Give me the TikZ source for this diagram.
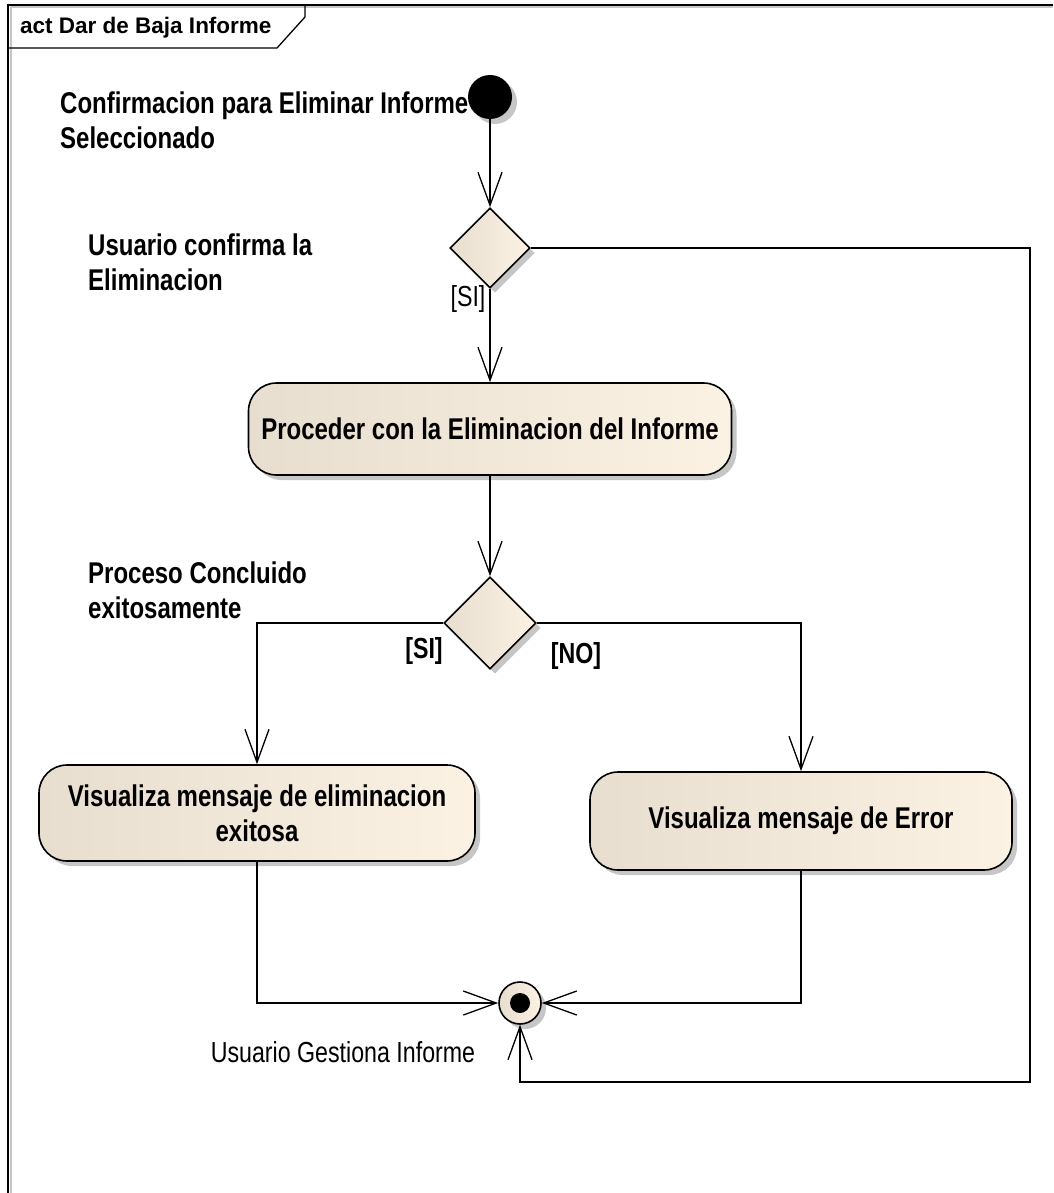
\documentclass[tikz,border=0pt]{standalone}
\usepackage{fontspec}
\setmainfont{Liberation Sans}
\newfontfamily\umlfont[FakeStretch=0.8]{Liberation Sans}
\usetikzlibrary{arrows.meta,positioning,shapes.geometric,shadows}
\definecolor{actleft}{RGB}{231,222,208}
\definecolor{actright}{RGB}{252,242,228}
\definecolor{shadowgray}{RGB}{198,198,198}

\begin{document}
\begin{tikzpicture}[x=1pt,y=-1pt,
        flow/.style={-{Straight Barb[length=33pt,width=24pt]}, line width=1.3pt},
        umlshadow/.style={drop shadow={shadow xshift=5pt, shadow yshift=-5pt, fill=shadowgray, opacity=1}},
        action/.style={draw, line width=1.6pt, rounded corners=28pt, left color=actleft, right color=actright, umlshadow,
            align=center, inner sep=0pt, font=\umlfont\bfseries\fontsize{30}{35}\selectfont},
        decision/.style={diamond, draw, line width=1.6pt, aspect=1, inner sep=0pt, left color=actleft, right color=actright, umlshadow},
        note/.style={inner sep=0pt, align=left, anchor=north west, font=\umlfont\bfseries\fontsize{30}{35}\selectfont},
        guard/.style={inner sep=0pt, font=\umlfont\fontsize{29}{34}\selectfont},
        guardb/.style={inner sep=0pt, font=\umlfont\bfseries\fontsize{29}{34}\selectfont}]
        \useasboundingbox (0,0) rectangle (1053,1193);
        % frame
        \draw[line width=2pt, shadowgray] (1053,7.5) -- (10.5,7.5) -- (10.5,1193);
        \draw[line width=1.6pt] (1053,5) -- (8,5) -- (8,1193);
        \draw[line width=1.3pt] (8,48) -- (277,48) -- (305,17) -- (305,5);
        \node[anchor=west, inner sep=0pt, font=\bfseries\fontsize{22.5}{26}\selectfont] (title) at (20,28) {act Dar de Baja Informe};
        % nodes
        \node[circle, fill=black, minimum size=44pt, inner sep=0pt, umlshadow] (start) at (490,97) {};
        \node[decision, minimum size=80pt] (conf) at (490,248) {};
        \node[action, minimum width=483pt, minimum height=92pt] (proc) at (490,429) {Proceder con la Eliminacion del Informe};
        \node[decision, minimum size=92pt] (ok) at (490,623) {};
        \node[action, minimum width=436pt, minimum height=96pt] (msgok) at (257,813) {Visualiza mensaje de eliminacion\\exitosa};
        \node[action, minimum width=422pt, minimum height=98pt] (msgerr) at (801,821) {\raisebox{6pt}{Visualiza mensaje de Error}};
        \node[circle, draw, line width=1.6pt, minimum size=42pt, inner sep=0pt, left color=actleft, right color=actright, umlshadow] (fin) at (520,1003) {};
        \fill (fin) circle (10pt);
        \coordinate (loopcorner) at (1030,1082);
        % labels
        \node[note] (startlbl) at (60,92) {Confirmacion para Eliminar Informe\\Seleccionado};
        \node[note] (conflbl) at (88,234) {Usuario confirma la\\Eliminacion};
        \node[note] (oklbl) at (88,562) {Proceso Concluido\\exitosamente};
        \node[guard] (si1) at (468,299) {[SI]};
        \node[guardb] (si2) at (424,651) {[SI]};
        \node[guardb] (no) at (576,656) {[NO]};
        \node[guard] (finlbl) at (343,1052) {Usuario Gestiona Informe};
        % connectors
        \draw[flow] (start) -- (conf);
        \draw[flow] (conf) -- (proc);
        \draw[flow] (proc) -- (ok);
        \draw[flow] (ok.west) -| (msgok.north);
        \draw[flow] (ok.east) -| (msgerr.north);
        \draw[flow] (msgok.south) |- (fin.west);
        \draw[flow] (msgerr.south) |- (fin.east);
        \draw[flow] (conf.east) -| (loopcorner) -| (fin.south);
      \end{tikzpicture}
\end{document}
